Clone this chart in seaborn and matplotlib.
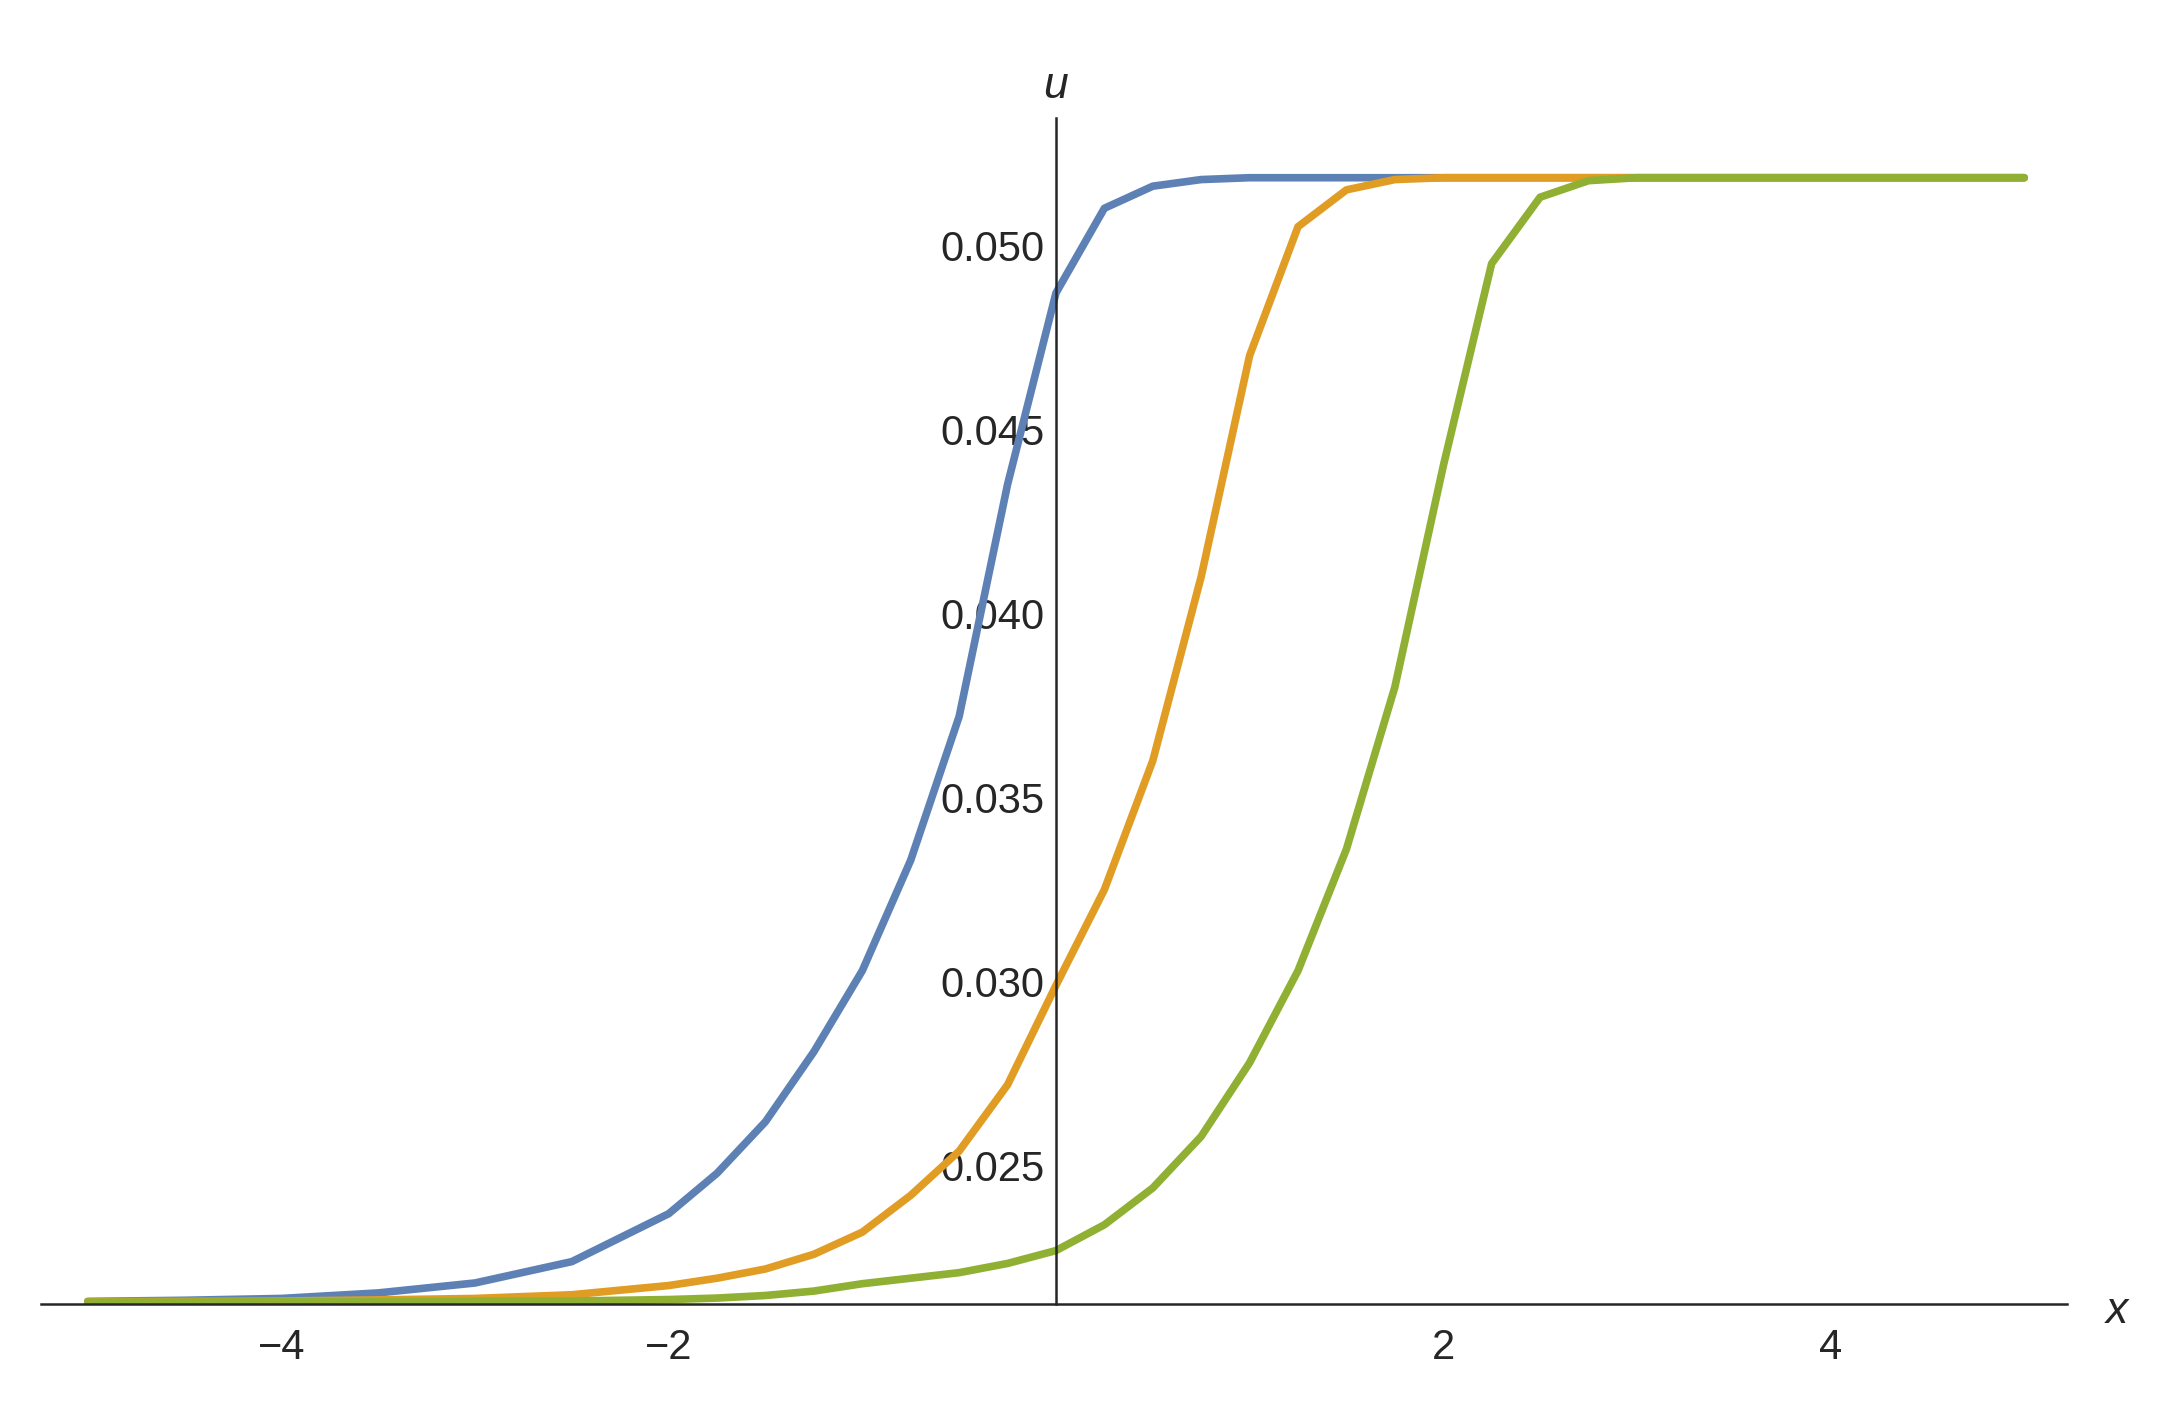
import numpy as np
import pandas as pd
import matplotlib
matplotlib.use("Agg")
import matplotlib.pyplot as plt
from matplotlib.ticker import MultipleLocator, FixedLocator
import seaborn as sns

x_grid = [-5, -4.5, -4, -3.5, -3, -2.5, -2, -1.75, -1.5, -1.25, -1, -0.75, -0.5, -0.25,
          0, 0.25, 0.5, 0.75, 1, 1.25, 1.5, 1.75, 2, 2.25, 2.5, 2.75, 3, 3.5, 4, 4.5, 5]

u_blue = [0.02132, 0.02135, 0.02140, 0.02155, 0.02182, 0.02240, 0.02370, 0.02480, 0.02620,
          0.02810, 0.03030, 0.03330, 0.03720, 0.04350, 0.04870, 0.05100, 0.05160, 0.05178,
          0.05183, 0.05183, 0.05183, 0.05183, 0.05183, 0.05183, 0.05183, 0.05183, 0.05183,
          0.05183, 0.05183, 0.05183, 0.05183]

u_orange = [0.02131, 0.02132, 0.02133, 0.02136, 0.02140, 0.02150, 0.02175, 0.02195, 0.02220,
            0.02260, 0.02320, 0.02420, 0.02540, 0.02720, 0.02990, 0.03250, 0.03600, 0.04100,
            0.04700, 0.05050, 0.05150, 0.05178, 0.05183, 0.05183, 0.05183, 0.05183, 0.05183,
            0.05183, 0.05183, 0.05183, 0.05183]

u_green = [0.02130, 0.02130, 0.02131, 0.02131, 0.02132, 0.02133, 0.02137, 0.02141, 0.02148,
           0.02160, 0.02180, 0.02195, 0.02210, 0.02235, 0.02270, 0.02340, 0.02440, 0.02580,
           0.02780, 0.03030, 0.03360, 0.03800, 0.04400, 0.04950, 0.05130, 0.05175, 0.05183,
           0.05183, 0.05183, 0.05183, 0.05183]

COLORS = ["#5E81B5", "#E19C24", "#8FB032"]

sns.set_style("white")
plt.rcParams["font.family"] = ["Liberation Sans", "DejaVu Sans"]

df = pd.DataFrame({
    "x": x_grid * 3,
    "u": u_blue + u_orange + u_green,
    "curve": ["a"] * len(x_grid) + ["b"] * len(x_grid) + ["c"] * len(x_grid),
})

fig = plt.figure(figsize=(21.71, 14.01), dpi=100)
ax = fig.add_axes([0.019, 0.069, 0.933, 0.847])

sns.lineplot(data=df, x="x", y="u", hue="curve", palette=COLORS, linewidth=5.5,
             legend=False, ax=ax, sort=False)

y0 = 0.02124
ax.set_xlim(-5.24, 5.22)
ax.set_ylim(y0, 0.05346)
ax.spines["left"].set_position(("data", 0))
ax.spines["bottom"].set_position(("data", y0))
ax.spines["top"].set_visible(False)
ax.spines["right"].set_visible(False)
for s in ["left", "bottom"]:
    ax.spines[s].set_linewidth(1.8)

ax.xaxis.set_major_locator(FixedLocator([-4, -2, 2, 4]))
ax.xaxis.set_minor_locator(FixedLocator([-5, -4.5, -3.5, -3, -2.5, -1.5, -1, -0.5,
                                         0.5, 1, 1.5, 2.5, 3, 3.5, 4.5, 5]))
ax.yaxis.set_major_locator(FixedLocator([0.025, 0.030, 0.035, 0.040, 0.045, 0.050]))
ax.yaxis.set_minor_locator(MultipleLocator(0.001))
ax.yaxis.set_major_formatter(plt.FuncFormatter(lambda v, _: f"{v:.3f}"))
ax.xaxis.set_major_formatter(plt.FuncFormatter(lambda v, _: f"{v:.0f}".replace("-", "\u2212")))

ax.tick_params(axis="x", which="major", direction="inout", length=26, width=1.8,
               labelsize=30, pad=4)
ax.tick_params(axis="x", which="minor", direction="in", length=10, width=1.5)
ax.tick_params(axis="y", which="major", direction="in", length=20, width=1.8,
               labelsize=30, pad=8)
ax.tick_params(axis="y", which="minor", direction="in", length=10, width=1.5)
ax.set_xlabel("")
ax.set_ylabel("")

ax.text(0, 1.06, "u", transform=ax.get_yaxis_transform(), ha="center", va="bottom",
        fontsize=32, style="italic")
ax.text(1.018, y0, "x", transform=ax.get_xaxis_transform(), ha="left", va="center",
        fontsize=32, style="italic")
ax.texts[-1].set_transform(ax.transData)
ax.texts[-1].set_position((5.42, y0 - 0.0002))
ax.texts[-2].set_transform(ax.transData)
ax.texts[-2].set_position((0, 0.05375))

fig.savefig("out.png", dpi=100, facecolor="white")
